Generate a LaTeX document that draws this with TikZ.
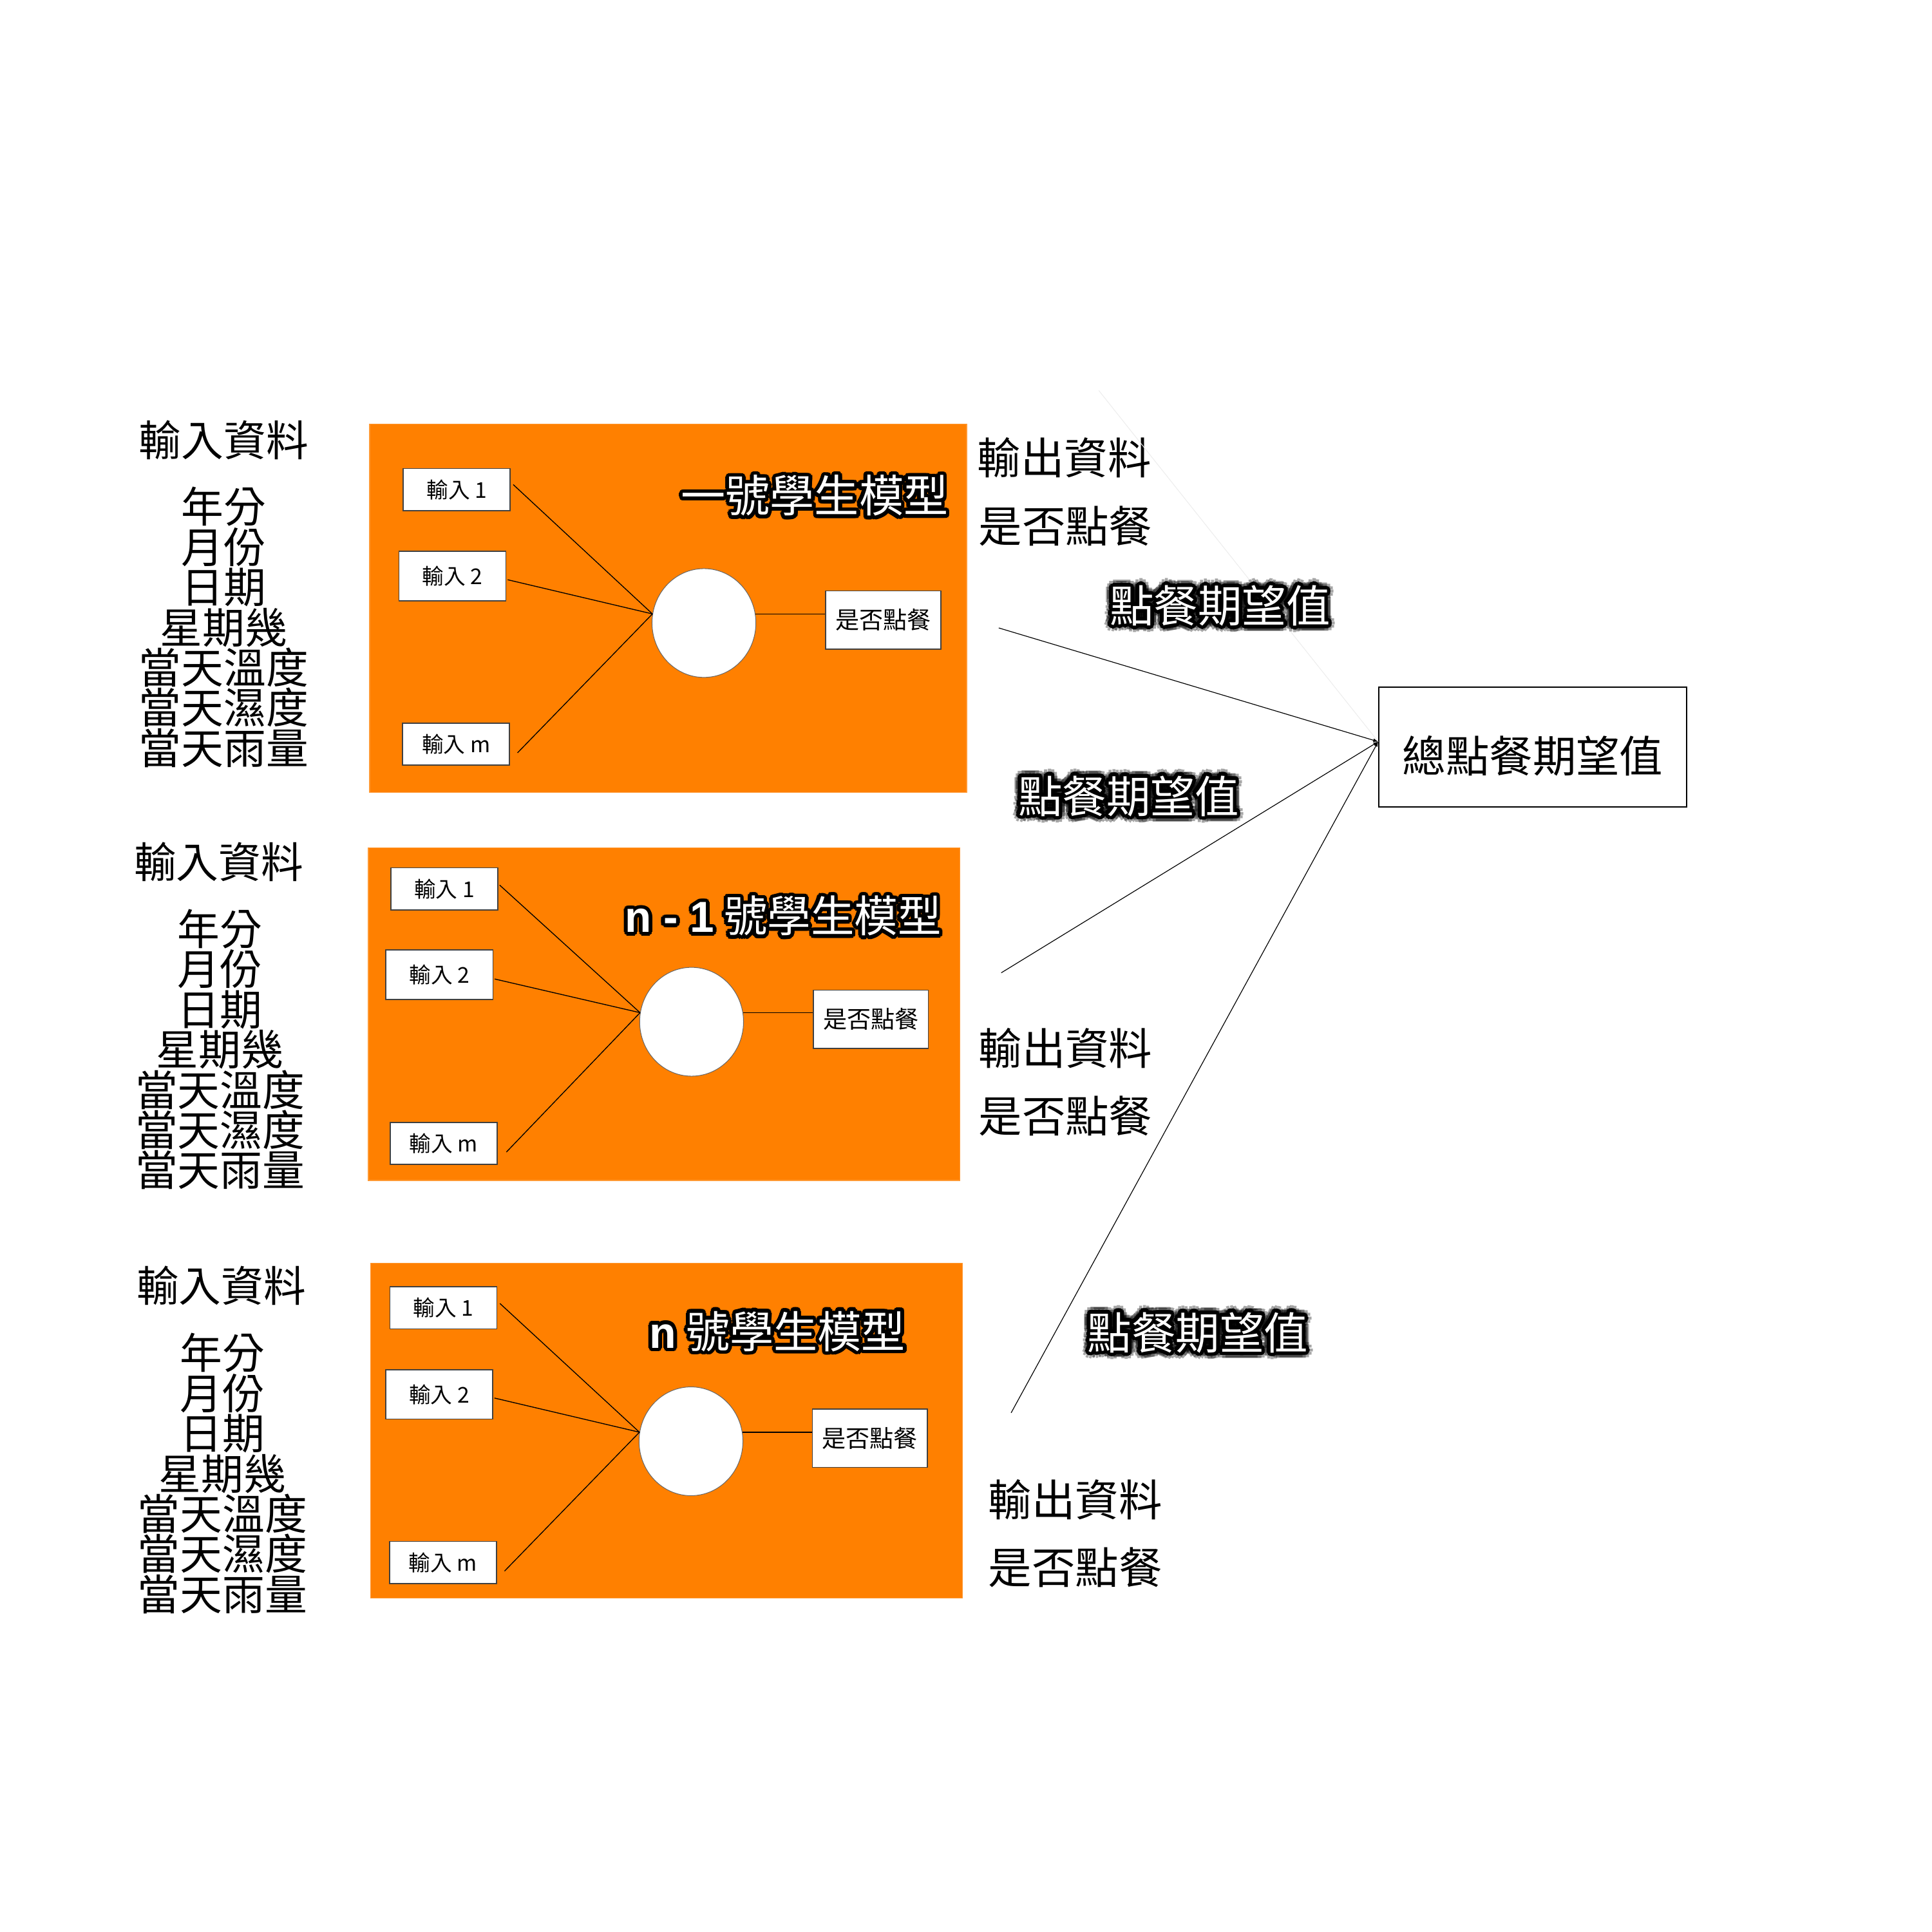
\documentclass[tikz,border=0pt]{standalone}
\usepackage{fontspec}
\setmainfont{Noto Sans CJK TC}
\newfontfamily\lat{Liberation Sans}
\usetikzlibrary{shapes.geometric,arrows.meta,calc}
\definecolor{orng}{RGB}{255,128,0}
\newcommand{\halotext}[5]{%
  \foreach \ang in {0,22.5,...,337.5}{%
    \node[font=#4, text=black, inner sep=0] at ($(#2)+(\ang:#3)$) {#5};
  }%
  \node[font=#4, text=white, inner sep=0] (#1) at (#2) {#5};
}
\begin{document}
\begin{tikzpicture}[x=0.2mm,y=-0.2mm,
  panel/.style={fill=orng, draw=orng!80!white, line width=0.4pt},
  inbox/.style={rectangle, draw=black!75, fill=white, line width=0.5pt, inner sep=0,
    minimum width=17.3mm, font=\fontsize{10}{12}\selectfont},
  outbox/.style={rectangle, draw=black!75, fill=white, line width=0.5pt, inner sep=0,
    minimum width=18.6mm, minimum height=9.4mm, font=\fontsize{11}{13}\selectfont},
  neuron/.style={ellipse, draw=black!60, fill=white, line width=0.3pt, inner sep=0,
    minimum width=16.8mm, minimum height=17.6mm},
  wire/.style={draw=black, line width=0.4pt},
  bigtxt/.style={inner sep=0, font=\fontsize{19.5}{18.5}\selectfont, align=center},
  outtxt/.style={inner sep=0, font=\fontsize{20}{24}\selectfont},
  totbox/.style={rectangle, draw=black, line width=0.6pt, fill=white, inner sep=0,
    minimum width=49.8mm, minimum height=19.4mm, font=\fontsize{20}{24}\selectfont},
  conn/.style={draw=black, line width=0.35pt, -{Latex[length=0.8mm,width=0.6mm]}}
]
\useasboundingbox[fill=white] (0,0) rectangle (1563,1563);

% ---------- panel 1 ----------
\fill[panel] (299,343) rectangle (782,641);
\node[inbox, minimum height=6.8mm] (a1) at (369.5,396) {輸入 1};
\node[inbox, minimum height=8mm] (a2) at (366,466) {輸入 2};
\node[inbox, minimum height=6.8mm] (am) at (369,602) {輸入 m};
\node[neuron] (n1) at (569.5,504) {};
\node[outbox] (o1) at (714.5,501.5) {是否點餐};
\draw[wire] ($(a1.east)+(2,-4)$) -- (n1.170);
\draw[wire] ($(a2.east)+(1,3)$) -- (n1.170);
\draw[wire] ($(am.east)+(6,7)$) -- (n1.170);
\draw[wire] (n1.10) -- (n1.10 -| o1.west);
\halotext{t1}{659,401}{3}{\fontsize{20.5}{24}\selectfont}{一號學生模型}

% ---------- panel 2 ----------
\fill[panel] (298,686) rectangle (776.5,955);
\node[inbox, minimum height=6.8mm] (b1) at (359.5,719) {輸入 1};
\node[inbox, minimum height=8mm] (b2) at (355.5,788.5) {輸入 2};
\node[inbox, minimum height=6.8mm] (bm) at (359,925) {輸入 m};
\node[neuron] (n2) at (559.5,826.6) {};
\node[outbox] (o2) at (704.5,824.5) {是否點餐};
\draw[wire] ($(b1.east)+(1,-3)$) -- (n2.170);
\draw[wire] ($(b2.east)+(1,3.5)$) -- (n2.170);
\draw[wire] ($(bm.east)+(7,7)$) -- (n2.170);
\draw[wire] (n2.10) -- (n2.10 -| o2.west);
\halotext{t2}{633.5,741}{3}{\fontsize{20}{24}\selectfont}{{\lat\bfseries n - 1} 號學生模型}

% ---------- panel 3 ----------
\fill[panel] (300,1022) rectangle (778.5,1293);
\node[inbox, minimum height=6.8mm] (c1) at (358.75,1058) {輸入 1};
\node[inbox, minimum height=8mm] (c2) at (355.3,1128) {輸入 2};
\node[inbox, minimum height=6.8mm] (cm) at (358.5,1264) {輸入 m};
\node[neuron] (n3) at (559,1166) {};
\node[outbox] (o3) at (703.75,1163.5) {是否點餐};
\draw[wire] ($(c1.east)+(2,-3.5)$) -- (n3.170);
\draw[wire] ($(c2.east)+(1,3)$) -- (n3.170);
\draw[wire] ($(cm.east)+(6,7)$) -- (n3.170);
\draw[wire] (n3.10) -- (n3.10 -| o3.west);
\halotext{t3}{629,1077}{3}{\fontsize{20.2}{24}\selectfont}{{\lat\bfseries n} 號學生模型}

% ---------- left input lists ----------
\node[bigtxt] (h1) at (181,356) {輸入資料};
\node[bigtxt] (l1) at (181,507.5) {年分\\月份\\日期\\星期幾\\當天溫度\\當天濕度\\當天雨量};
\node[bigtxt] (h2) at (177,697) {輸入資料};
\node[bigtxt] (l2) at (178,849) {年分\\月份\\日期\\星期幾\\當天溫度\\當天濕度\\當天雨量};
\node[bigtxt] (h3) at (179,1040) {輸入資料};
\node[bigtxt] (l3) at (180,1192) {年分\\月份\\日期\\星期幾\\當天溫度\\當天濕度\\當天雨量};

% ---------- right output texts ----------
\node[outtxt] (r1a) at (861,370) {輸出資料};
\node[outtxt] (r1b) at (862,425.6) {是否點餐};
\node[outtxt] (r2a) at (862,848) {輸出資料};
\node[outtxt] (r2b) at (862,903) {是否點餐};
\node[outtxt] (r3a) at (870,1213) {輸出資料};
\node[outtxt] (r3b) at (870,1268) {是否點餐};

% ---------- total ----------
\node[totbox] (tot) at (1240,604.5) {\raisebox{-1.4mm}[\height][\depth]{總點餐期望值}};
\coordinate (j) at (1115,600);
\coordinate (s1) at (808,508);
\coordinate (s2) at (810,787);
\coordinate (s3) at (818,1143);
\coordinate (f) at (889,316);
\draw[black!7, line width=0.3pt] (f) -- (j);
\draw[conn] (s1) -- (j);
\draw[conn] (s2) -- (j);
\draw[conn] (s3) -- (j);

% ---------- glowing labels ----------
\foreach \pos in {{987,490}, {913,644}, {969,1078}}{
  \foreach \ang in {0,30,...,330}{
    \node[inner sep=0, font=\fontsize{20.3}{24}\selectfont, text=black, opacity=0.35]
      at ($(\pos)+(\ang:5.5)$) {點餐期望值};
  }
}
\halotext{e1}{987,490}{3}{\fontsize{20.3}{24}\selectfont}{點餐期望值}
\halotext{e2}{913,644}{3}{\fontsize{20.3}{24}\selectfont}{點餐期望值}
\halotext{e3}{969,1078}{3}{\fontsize{20.3}{24}\selectfont}{點餐期望值}
\end{tikzpicture}
\end{document}
